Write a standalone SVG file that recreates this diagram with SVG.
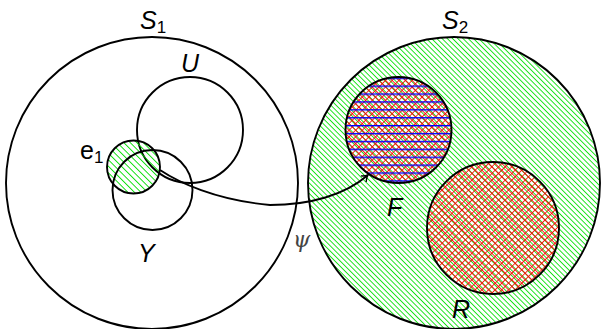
<svg xmlns="http://www.w3.org/2000/svg" width="602" height="329" viewBox="0 0 602 329">
  <defs>
    <pattern id="green" patternUnits="userSpaceOnUse" width="3.7" height="3.7" patternTransform="rotate(-45)">
      <rect x="0" y="0" width="0.85" height="3.7" fill="#00e000"/>
    </pattern>
    <pattern id="greenE" patternUnits="userSpaceOnUse" width="4.6" height="4.6" patternTransform="rotate(-45)">
      <rect x="0" y="0" width="0.9" height="4.6" fill="#00e000"/>
    </pattern>
    <pattern id="cross" patternUnits="userSpaceOnUse" width="4.7" height="4.7" patternTransform="rotate(45)">
      <rect x="0" y="0" width="0.85" height="4.7" fill="#ff0000"/>
      <rect x="0" y="0" width="4.7" height="0.85" fill="#ff0000"/>
    </pattern>
    <pattern id="blue" patternUnits="userSpaceOnUse" x="0" y="85.5" width="10" height="7.9">
      <rect x="0" y="0" width="10" height="1.4" fill="#0000ff"/>
    </pattern>
    <marker id="arr" markerWidth="12" markerHeight="12" refX="9" refY="6" orient="auto" markerUnits="userSpaceOnUse">
      <path d="M3,2 Q6,5 9,6 Q6,7 3,10" fill="none" stroke="#000" stroke-width="1.4"/>
    </marker>
  </defs>
  <style>
    .c { fill: none; stroke: #000; stroke-width: 1.9; }
    .lbl { font-family: "Liberation Sans", "DejaVu Sans", sans-serif; font-size: 25px; fill: #000; }
    .it { font-style: italic; }
    .sub { font-size: 17px; font-style: normal; }
    .psi { font-family: "DejaVu Serif", "Liberation Serif", serif; font-style: italic; font-size: 22px; fill: #444; }
  </style>

  <g id="S1">
    <circle class="c" cx="152" cy="183" r="146"/>
    <text class="lbl it" x="140" y="29">S<tspan class="sub" dy="4">1</tspan></text>
  </g>

  <g id="U">
    <circle class="c" cx="190" cy="130" r="53"/>
    <text class="lbl it" x="181" y="72">U</text>
  </g>

  <g id="e1">
    <circle cx="133.5" cy="167" r="26.5" fill="url(#greenE)"/>
    <circle class="c" cx="133.5" cy="167" r="26.5"/>
    <text class="lbl" x="80" y="159">e<tspan class="sub" dy="4">1</tspan></text>
  </g>

  <g id="Y">
    <circle class="c" cx="152.5" cy="190" r="40"/>
    <text class="lbl it" x="138" y="262">Y</text>
  </g>

  <g id="S2">
    <circle cx="454" cy="183" r="146" fill="url(#green)"/>
    <circle class="c" cx="454" cy="183" r="146"/>
    <text class="lbl it" x="442" y="29">S<tspan class="sub" dy="4">2</tspan></text>
  </g>

  <g id="F">
    <circle cx="398.5" cy="130" r="53" fill="url(#cross)"/>
    <circle cx="398.5" cy="130" r="53" fill="url(#blue)"/>
    <circle class="c" cx="398.5" cy="130" r="53"/>
    <text class="lbl it" x="387" y="216">F</text>
  </g>

  <g id="R">
    <circle cx="493" cy="228" r="66" fill="url(#cross)"/>
    <circle class="c" cx="493" cy="228" r="66"/>
    <text class="lbl it" x="452" y="318">R</text>
  </g>

  <g id="connectors">
    <path class="c" d="M160,170 C178,182 215,200 270,205 C310,205 345,195 368,175" marker-end="url(#arr)"/>
    <text class="psi" x="293" y="247">ψ</text>
  </g>
</svg>
